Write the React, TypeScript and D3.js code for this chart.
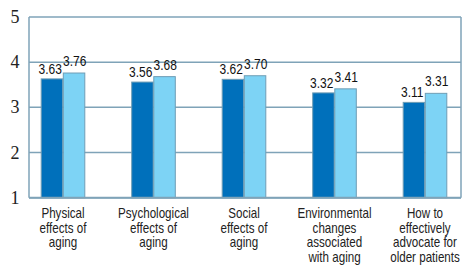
import React from "react";
import * as d3 from "d3";

const categories: string[][] = [
  ["Physical", "effects of", "aging"],
  ["Psychological", "effects of", "aging"],
  ["Social", "effects of", "aging"],
  ["Environmental", "changes", "associated", "with aging"],
  ["How to", "effectively", "advocate for", "older patients"],
];
const seriesA: number[] = [3.63, 3.56, 3.62, 3.32, 3.11];
const seriesB: number[] = [3.76, 3.68, 3.70, 3.41, 3.31];
const yTicks: number[] = [1, 2, 3, 4, 5];

const W = 462;
const H = 266;
const left = 29;
const right = 461;
const top = 17;
const bottom = 197.7;
const barW = 21.5;
const dark = "#0070bb";
const light = "#7dd3f5";
const stroke = "#6f9db5";
const grid = "#7fa3b8";
const sans = "Liberation Sans, Arial, sans-serif";
const squeeze = 0.8;

function Narrow({ x, y, size, fill, children }: { x: number; y: number; size: number; fill: string; children: React.ReactNode }) {
  return (
    <g transform={`translate(${x},${y}) scale(${squeeze},1)`}>
      <text x={0} y={0} textAnchor="middle" style={{ fontFamily: sans, fontSize: size }} fill={fill}>
        {children}
      </text>
    </g>
  );
}

export default function App() {
  const y = d3.scaleLinear().domain([1, 5]).range([bottom, top]);
  const x = d3
    .scalePoint<number>()
    .domain(d3.range(categories.length))
    .range([left + 34, right - 36]);

  return (
    <svg
      width={W}
      height={H}
      style={{ position: "absolute", left: 0, top: 0, background: "#fff" }}
    >
      {yTicks.map((t) => (
        <g key={t}>
          <line x1={left} x2={right} y1={y(t)} y2={y(t)} stroke={grid} strokeWidth={1.5} />
          <text
            x={15}
            y={y(t) + 6}
            textAnchor="middle"
            fontFamily="serif"
            fontSize={18}
            fill="#222"
          >
            {t}
          </text>
        </g>
      ))}
      <line x1={left} x2={left} y1={top} y2={bottom} stroke={grid} strokeWidth={1.5} />
      <line x1={right} x2={right} y1={top} y2={bottom} stroke={grid} strokeWidth={1.5} />
      {categories.map((lines, i) => {
        const cx = x(i) as number;
        const a = seriesA[i];
        const b = seriesB[i];
        return (
          <g key={i}>
            <rect x={cx - barW - 0.3} y={y(a)} width={barW} height={bottom - y(a)} fill={dark} stroke={stroke} strokeWidth={1} />
            <rect x={cx + 0.3} y={y(b)} width={barW} height={bottom - y(b)} fill={light} stroke={stroke} strokeWidth={1} />
            <Narrow x={cx - barW / 2 - 2} y={y(a) - 5} size={15} fill="#111">
              {a.toFixed(2)}
            </Narrow>
            <Narrow x={cx + barW / 2 + 1} y={y(b) - 7} size={15} fill="#111">
              {b.toFixed(2)}
            </Narrow>
            {lines.map((ln, j) => (
              <Narrow key={j} x={cx} y={218 + j * 14.5} size={14.5} fill="#222">
                {ln}
              </Narrow>
            ))}
          </g>
        );
      })}
      <line x1={left} x2={right} y1={bottom} y2={bottom} stroke={grid} strokeWidth={2} />
    </svg>
  );
}
